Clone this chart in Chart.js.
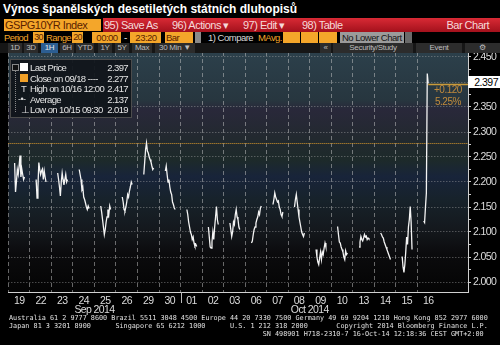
<!DOCTYPE html>
<html>
<head>
<meta charset="utf-8">
<script src="https://cdn.jsdelivr.net/npm/chart.js@4.4.1/dist/chart.umd.min.js"></script>
<style>
  html, body { margin: 0; padding: 0; background: #000; }
  #wrap { position: relative; width: 500px; height: 345px; overflow: hidden; background: #000;
          font-family: "Liberation Sans", Arial, sans-serif; letter-spacing: -0.5px; }
  #chartBox { position: absolute; left: 0; top: 0; width: 500px; height: 345px; }
  .abs { position: absolute; white-space: nowrap; }
  #title { left: 3px; top: 2px; color: #fff; font: bold 12px "Liberation Sans", Arial, sans-serif; letter-spacing: 0; }
  .row { position: absolute; left: 0; width: 500px; background: #000; }
  .org { background: #f4a62a; color: #5a1e00; font-size: 9.5px; line-height: 11px; height: 11px; padding-left: 1px; box-sizing: border-box; }
  .num { padding-left: 0; text-align: center; font-size: 9px; letter-spacing: -0.8px; }
  .otext { color: #f4a62a; font-size: 9.5px; line-height: 11px; letter-spacing: -0.6px; }
  .red { color: #f6d9d9; font-size: 11px; line-height: 14px; }
  .btn { background: #2c2c2c; color: #bdbdbd; font-size: 8px; line-height: 10px; height: 10px; text-align: center; letter-spacing: -0.3px; }
  #legend { left: 10px; top: 59px; width: 122px; height: 59px; background: rgba(16,20,26,0.93);
            border: 1px solid #4c4c4c; box-sizing: border-box; color: #e4e4e4; font-size: 9.5px; letter-spacing: -0.6px; }
  .lrow { position: absolute; left: 0; width: 120px; height: 11px; line-height: 11px; }
  .lval { position: absolute; right: 3px; top: 0; }
  .llab { position: absolute; left: 19px; top: 0; }
  #tree { left: 4px; top: 8px; width: 1px; height: 44px; border-left: 1px dotted #888; }
  #foot { left: 9px; top: 314px; color: #e0e0e0; font: 6.8px/8px "DejaVu Sans Mono", monospace; white-space: pre; letter-spacing: 0; }
</style>
</head>
<body>
<div id="wrap">
  <div id="chartBox"><canvas id="yieldChart"></canvas></div>

  <div class="row" style="top:0;height:18px;"></div>
  <div id="title" class="abs">Výnos španělských desetiletých státních dluhopisů</div>

  <div class="row" style="top:18px;height:14px;"></div>
  <div class="abs org" style="left:4px;top:19px;width:97px;height:12px;font-size:11px;line-height:12px;">GSPG10YR Index</div>
  <div class="abs" style="left:103px;top:18px;width:397px;height:14px;background:linear-gradient(#d92a35,#a3111c);"></div>
  <div class="abs red" style="left:104px;top:18px;">95) Save As</div>
  <div class="abs red" style="left:172px;top:18px;">96) Actions ▾</div>
  <div class="abs red" style="left:243px;top:18px;">97) Edit ▾</div>
  <div class="abs red" style="left:302px;top:18px;">98) Table</div>
  <div class="abs red" style="right:11px;top:18px;">Bar Chart</div>

  <div class="row" style="top:32px;height:11px;"></div>
  <div class="abs otext" style="left:4px;top:32px;">Period</div>
  <div class="abs org num" style="left:33px;top:32px;width:11px;">30</div>
  <div class="abs otext" style="left:46px;top:32px;">Range</div>
  <div class="abs org num" style="left:72px;top:32px;width:11px;">20</div>
  <div class="abs org" style="left:92px;top:32px;width:29px;text-align:center;">00:00</div>
  <div class="abs" style="left:124px;top:32px;color:#ddd;font-size:10px;line-height:11px;">-</div>
  <div class="abs org" style="left:130px;top:32px;width:31px;text-align:center;">23:20</div>
  <div class="abs org" style="left:165px;top:32px;width:28px;">Bar</div>
  <div class="abs" style="left:195px;top:32px;width:6px;height:11px;background:#8a8a8a;"></div>
  <div class="abs" style="left:208px;top:32px;color:#d8d8d8;font-size:9.5px;line-height:11px;">1) Compare</div>
  <div class="abs otext" style="left:258px;top:32px;">MAvg.</div>
  <div class="abs org" style="left:283px;top:32px;width:17px;"></div>
  <div class="abs org" style="left:301px;top:32px;width:17px;"></div>
  <div class="abs org" style="left:319px;top:32px;width:18px;"></div>
  <div class="abs" style="left:340px;top:32px;width:64px;height:11px;background:#9b9b9b;color:#161616;font-size:9.5px;line-height:11px;padding-left:2px;box-sizing:border-box;">No Lower Chart</div>
  <div class="abs" style="left:405px;top:32px;width:7px;height:11px;background:#6a6a6a;"></div>

  <div class="row" style="top:43px;height:10px;background:#161616;"></div>
  <div id="btnRow"></div>

  <div id="legend" class="abs"><div id="tree" class="abs"></div></div>

  <div class="abs" style="left:468px;top:76px;width:32px;height:12px;background:#fff;color:#000;font-size:10.5px;line-height:12px;text-align:right;padding-right:2px;box-sizing:border-box;" id="lastBox"></div>
  <div class="abs" id="chg1" style="left:434px;top:84px;color:#c28b3c;font-size:10px;"></div>
  <div class="abs" id="chg2" style="left:435px;top:96px;color:#c28b3c;font-size:10px;"></div>

  <div id="foot" class="abs">Australia 61 2 9777 8600 Brazil 5511 3048 4500 Europe 44 20 7330 7500 Germany 49 69 9204 1210 Hong Kong 852 2977 6000
Japan 81 3 3201 8900      Singapore 65 6212 1000      U.S. 1 212 318 2000       Copyright 2014 Bloomberg Finance L.P.
                                                              SN 498901 H718-2310-7 16-Oct-14 12:18:36 CEST GMT+2:00</div>
</div>

<script>
// Spanish 10Y govt bond yield, 30 min bars, 19 Sep - 16 Oct 2014

const days = ['19', '22', '23', '24', '25', '26', '29', '30', '01', '02',
              '03', '06', '07', '08', '09', '10', '13', '14', '15', '16'];
const hours = [7, 8, 9, 10, 11, 12, 13, 14, 15, 16, 17, 18];

const sep19 = [2.238, 2.180, 2.200, 2.225, 2.215, 2.232, 2.253, 2.210, 2.226, 2.215, 2.205, 2.210];
const sep22 = [2.205, 2.168, 2.190, 2.239, 2.225, 2.215, 2.222, 2.226, 2.205, 2.222, 2.210, 2.200];
const sep23 = [2.218, 2.205, 2.190, 2.172, 2.200, 2.218, 2.205, 2.194, 2.205, 2.215, 2.200, 2.205];
const sep24 = [2.225, 2.215, 2.205, 2.185, 2.190, 2.170, 2.165, 2.158, 2.150, 2.145, 2.152, 2.147];
const sep25 = [2.152, 2.140, 2.125, 2.110, 2.095, 2.105, 2.120, 2.130, 2.145, 2.135, 2.152, 2.145];
const sep26 = [2.170, 2.160, 2.145, 2.142, 2.150, 2.160, 2.175, 2.170, 2.182, 2.190, 2.200, 2.195];
const sep29 = [2.215, 2.240, 2.265, 2.278, 2.262, 2.258, 2.250, 2.245, 2.240, 2.232, 2.225, 2.228];
const sep30 = [2.222, 2.232, 2.215, 2.200, 2.205, 2.190, 2.180, 2.175, 2.160, 2.155, 2.148, 2.145];
const oct01 = [2.145, 2.135, 2.120, 2.110, 2.100, 2.095, 2.085, 2.090, 2.078, 2.072, 2.075, 2.071];
const oct02 = [2.110, 2.090, 2.070, 2.068, 2.080, 2.100, 2.085, 2.110, 2.130, 2.151, 2.125, 2.115];
const oct03 = [2.118, 2.105, 2.091, 2.100, 2.120, 2.115, 2.135, 2.145, 2.130, 2.125, 2.110, 2.105];
const oct06 = [2.078, 2.082, 2.095, 2.105, 2.110, 2.118, 2.125, 2.130, 2.140, 2.135, 2.148, 2.152];
const oct07 = [2.155, 2.165, 2.178, 2.170, 2.165, 2.160, 2.162, 2.150, 2.145, 2.135, 2.131, 2.140];
const oct08 = [2.150, 2.165, 2.175, 2.160, 2.145, 2.130, 2.120, 2.110, 2.100, 2.095, 2.091, 2.098];
const oct09 = [2.065, 2.050, 2.040, 2.035, 2.048, 2.060, 2.045, 2.060, 2.055, 2.068, 2.078, 2.070];
const oct10 = [2.111, 2.095, 2.080, 2.078, 2.070, 2.065, 2.060, 2.050, 2.045, 2.062, 2.055, 2.058];
const oct13 = [2.070, 2.080, 2.091, 2.085, 2.082, 2.088, 2.095, 2.090, 2.092, 2.085, 2.088, 2.086];
const oct14 = [2.098, 2.095, 2.090, 2.088, 2.080, 2.075, 2.070, 2.065, 2.060, 2.055, 2.050, 2.045];
const oct15 = [2.051, 2.030, 2.019, 2.035, 2.060, 2.090, 2.075, 2.110, 2.125, 2.151, 2.120, 2.065];
const oct16 = [2.122, 2.119, 2.150, 2.178, 2.417, 2.397];

const dayValues = [sep19, sep22, sep23, sep24, sep25, sep26, sep29, sep30, oct01, oct02,
                   oct03, oct06, oct07, oct08, oct09, oct10, oct13, oct14, oct15, oct16];

const yTicks = [2.000, 2.025, 2.050, 2.075, 2.100, 2.125, 2.150, 2.175, 2.200, 2.225,
                2.250, 2.275, 2.300, 2.325, 2.350, 2.375, 2.400, 2.425, 2.450];

const months = ['Sep 2014', 'Oct 2014'];
const monthCenters = [4, 14];
const monthBreak = 8;

const legendLabels = ['Last Price', 'Close on 09/18 ----', 'High on 10/16 12:00', 'Average', 'Low on 10/15 09:30'];
const legendValues = [2.397, 2.277, 2.417, 2.137, 2.019];
const changeText = ['+0.120', '5.25%'];

const FONT = '"Liberation Sans", Arial, sans-serif';
const lastPrice = legendValues[0];
const closePrice = legendValues[1];

// build points, null between days so the line breaks
const points = [];
dayValues.forEach(function(vals, i) {
    vals.forEach(function(v, j) {
        points.push({ x: i + hours[j] / 24, y: v });
    });
    points.push({ x: i + 0.95, y: null });
});

// legend box
const legendEl = document.getElementById('legend');
const icons = [
    '<span style="position:absolute;left:1px;top:2px;width:5px;height:5px;border:1px solid #888;background:#111;"></span><span style="position:absolute;left:9px;top:1px;width:8px;height:8px;background:#fff;"></span>',
    '<span style="position:absolute;left:9px;top:1px;width:8px;height:8px;background:#f0a028;"></span>',
    '<span style="position:absolute;left:10px;top:0;color:#ddd;">T</span>',
    '<span style="position:absolute;left:7px;top:0;color:#ddd;font-size:9px;">-•-</span>',
    '<span style="position:absolute;left:10px;top:0;color:#ddd;">⊥</span>'
];
legendLabels.forEach(function(label, i) {
    const row = document.createElement('div');
    row.className = 'lrow';
    row.style.top = (2 + i * 10.6) + 'px';
    row.innerHTML = icons[i] + '<span class="llab">' + label + '</span><span class="lval">' + legendValues[i].toFixed(3) + '</span>';
    legendEl.appendChild(row);
});
document.getElementById('lastBox').textContent = lastPrice.toFixed(3);
document.getElementById('chg1').textContent = changeText[0];
document.getElementById('chg2').textContent = changeText[1];

// toolbar buttons
const btnRow = document.getElementById('btnRow');
const buttons = [
    ['1D', 8, 14], ['3D', 24, 14], ['1H', 41, 17], ['6H', 60, 14], ['YTD', 76, 18], ['1Y', 98, 14],
    ['5Y', 115, 14], ['Max', 132, 20], ['30 Min ▼', 155, 40],
    ['«', 320, 11], ['Security/Study', 333, 80], ['Event', 416, 46], ['⚙', 465, 35]
];
buttons.forEach(function(b) {
    const el = document.createElement('div');
    el.className = 'abs btn';
    el.style.left = b[1] + 'px';
    el.style.top = '43px';
    el.style.width = b[2] + 'px';
    el.textContent = b[0];
    if (b[0] === '1H') { el.style.background = '#2c5e92'; el.style.color = '#e8e8e8'; }
    btnRow.appendChild(el);
});

// plot background gradient
const bgPlugin = {
    id: 'bg',
    beforeDraw: function(chart) {
        const a = chart.chartArea;
        const ctx = chart.ctx;
        const g = ctx.createLinearGradient(0, a.top, 0, a.bottom);
        g.addColorStop(0, '#2c404b');
        g.addColorStop(0.2, '#27363f');
        g.addColorStop(0.24, '#29283a');
        g.addColorStop(0.36, '#22292f');
        g.addColorStop(0.45, '#1d2a2a');
        g.addColorStop(0.52, '#18243a');
        g.addColorStop(0.62, '#17222a');
        g.addColorStop(0.74, '#14181d');
        g.addColorStop(0.84, '#0b0b0d');
        g.addColorStop(1, '#040404');
        ctx.save();
        ctx.fillStyle = g;
        ctx.fillRect(a.left, a.top, a.right - a.left, a.bottom - a.top);
        ctx.restore();
        // squeeze the axis text a bit, the terminal font is narrow
        ctx.letterSpacing = '-0.6px';
    }
};

// close line, last price line, month labels
const extrasPlugin = {
    id: 'extras',
    beforeDatasetsDraw: function(chart) {
        const ctx = chart.ctx, a = chart.chartArea, y = chart.scales.y;
        const cy = Math.round(y.getPixelForValue(closePrice)) + 0.5;
        ctx.save();
        ctx.strokeStyle = '#d9982c';
        ctx.lineWidth = 1;
        ctx.setLineDash([1, 1]);
        ctx.beginPath();
        ctx.moveTo(a.left, cy);
        ctx.lineTo(a.right, cy);
        ctx.stroke();
        ctx.restore();
    },
    afterDatasetsDraw: function(chart) {
        const ctx = chart.ctx, a = chart.chartArea, x = chart.scales.x, y = chart.scales.y;
        const last = points[points.length - 2];
        const ly = Math.round(y.getPixelForValue(lastPrice)) + 0.5;
        ctx.save();
        ctx.strokeStyle = '#c99a3a';
        ctx.lineWidth = 1.5;
        ctx.beginPath();
        ctx.moveTo(x.getPixelForValue(last.x), ly);
        ctx.lineTo(a.right, ly);
        ctx.stroke();

        ctx.fillStyle = '#dcdcdc';
        ctx.font = '10.5px ' + FONT;
        ctx.textAlign = 'center';
        ctx.textBaseline = 'middle';
        months.forEach(function(m, i) {
            ctx.fillText(m, x.getPixelForValue(monthCenters[i]), a.bottom + 18);
        });
        const mx = Math.round(x.getPixelForValue(monthBreak)) + 0.5;
        ctx.strokeStyle = '#bdbdbd';
        ctx.lineWidth = 1;
        ctx.beginPath();
        ctx.moveTo(mx, a.bottom);
        ctx.lineTo(mx, a.bottom + 11);
        ctx.stroke();
        ctx.restore();
    }
};

function isMajor(v) {
    return Math.round(v * 1000) % 50 === 0;
}

new Chart(document.getElementById('yieldChart'), {
    type: 'line',
    data: {
        datasets: [{
            data: points,
            borderColor: '#f4f4f4',
            borderWidth: 1.3,
            pointRadius: 0,
            tension: 0,
            spanGaps: false
        }]
    },
    options: {
        responsive: true,
        maintainAspectRatio: false,
        animation: false,
        layout: {
            padding: { top: 52, left: 7, right: 0, bottom: 0 }
        },
        plugins: {
            legend: { display: false },
            tooltip: { enabled: false }
        },
        scales: {
            x: {
                type: 'linear',
                min: 0,
                max: 21.35,
                afterBuildTicks: function(scale) {
                    scale.ticks = days.map(function(d, i) { return { value: i }; });
                },
                afterFit: function(scale) { scale.height = 53; },
                grid: {
                    color: 'rgba(200, 200, 200, 0.5)',
                    drawTicks: false,
                    lineWidth: 1
                },
                border: { color: '#d0d0d0', dash: [4, 3] },
                ticks: {
                    color: '#dcdcdc',
                    font: { size: 10.5, family: FONT },
                    labelOffset: 10.8,
                    padding: 3,
                    maxRotation: 0,
                    autoSkip: false,
                    callback: function(value) { return days[value] || ''; }
                }
            },
            y: {
                position: 'right',
                min: 1.98,
                max: 2.46,
                afterBuildTicks: function(scale) {
                    scale.ticks = yTicks.map(function(v) { return { value: v }; });
                },
                afterFit: function(scale) { scale.width = 32; },
                grid: {
                    color: function(ctx) {
                        return isMajor(ctx.tick.value) ? 'rgba(175, 175, 175, 0.6)' : 'rgba(0,0,0,0)';
                    },
                    tickColor: '#cfcfcf',
                    tickLength: 3,
                    lineWidth: 1
                },
                border: { color: '#cfcfcf', dash: [1, 2] },
                ticks: {
                    color: '#dcdcdc',
                    font: { size: 10.5, family: FONT },
                    padding: 2,
                    autoSkip: false,
                    callback: function(value) {
                        return isMajor(value) ? value.toFixed(3) : '';
                    }
                }
            }
        }
    },
    plugins: [bgPlugin, extrasPlugin]
});
</script>
</body>
</html>
